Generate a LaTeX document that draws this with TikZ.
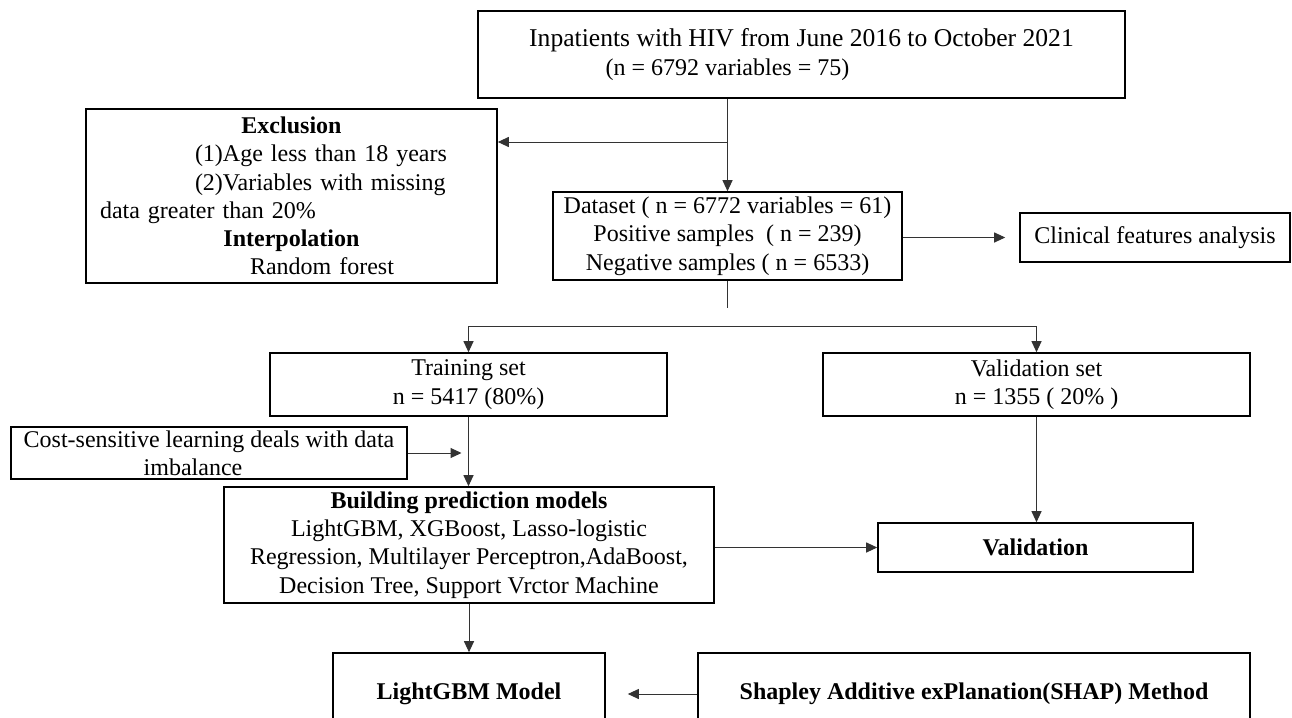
\documentclass[tikz,border=0pt]{standalone}
\usepackage{fontspec}
\setmainfont{Liberation Serif}
\usetikzlibrary{arrows.meta,calc}
\newcommand\bodyfont{\fontsize{24}{28.3}\selectfont}
\begin{document}
\begin{tikzpicture}[x=1pt,y=-1pt,
  box/.style={draw=black,line width=1.6pt,rectangle,inner sep=0pt,align=center,font=\bodyfont},
  boldbox/.style={box,font=\bodyfont\bfseries},
  conn/.style={draw=black!80,line width=1pt},
  arr/.style={conn,-{Triangle[length=11pt,width=10pt]}}]
\clip (0,0) rectangle (1292,717);
\fill[white] (0,0) rectangle (1292,717);

\node[box,minimum width=647pt,minimum height=87pt] (top) at (801.5,54.5)
  {{\fontsize{25.6}{28.3}\selectfont Inpatients with HIV from June 2016 to October 2021}\\\hspace*{-148pt}(n = 6792 variables = 75)};
\node[box,align=left,text width=383pt,inner xsep=14pt,minimum height=174pt] (excl) at (291.5,196)
  {\makebox[383pt]{\bfseries Exclusion}\\
   \hspace*{95pt}(1)Age less than 18 years\\
   \hspace*{95pt}(2)Variables with missing\\
   data greater than 20\%\\
   \makebox[383pt]{\bfseries Interpolation}\\
   \hspace*{150pt}Random forest};
\node[box,minimum width=349pt,minimum height=88pt] (data) at (727.5,236)
  {Dataset ( n = 6772 variables = 61)\\Positive samples\ \ ( n = 239)\\Negative samples ( n = 6533)};
\node[box,minimum width=270pt,minimum height=49pt] (clin) at (1155,237.5) {Clinical features analysis};
\node[box,minimum width=397pt,minimum height=63pt] (train) at (468.5,384.5) {Training set\\n = 5417 (80\%)};
\node[box,minimum width=427pt,minimum height=63pt] (valset) at (1036.5,384.5) {Validation set\\n = 1355 ( 20\% )};
\node[box,minimum width=396pt,minimum height=52pt] (cost) at (209,453)
  {Cost-sensitive learning deals with data\\\hspace*{-32pt}imbalance};
\node[box,minimum width=490pt,minimum height=116pt] (build) at (469,545)
  {\textbf{Building prediction models}\\LightGBM, XGBoost, Lasso-logistic\\Regression, Multilayer Perceptron,AdaBoost,\\Decision Tree, Support Vrctor Machine};
\node[boldbox,minimum width=315pt,minimum height=49pt] (val) at (1035.5,547.5) {Validation};
\node[boldbox,minimum width=272pt,minimum height=82pt] (lgbm) at (469,694) {LightGBM Model};
\node[boldbox,minimum width=552pt,minimum height=82pt] (shap) at (974,694) {Shapley Additive exPlanation(SHAP) Method};

\coordinate (br1) at (727.5,142);
\coordinate (stub) at (727.5,308);
\coordinate (split) at (727.5,326);

\draw[arr] (top.south -| data.north) -- (data.north);
\draw[arr] (br1) -- (excl.east |- br1);
\draw[arr,shorten >=14pt] (data.east |- clin.west) -- (clin.west);
\draw[conn] (data.south) -- (stub);
\draw[arr] (split) -| (train.north);
\draw[arr] (split) -| (valset.north);
\draw[arr] (train.south) -- (train.south |- build.north);
\draw[arr,shorten >=7pt] (cost.east) -- (cost.east -| train.south);
\draw[arr] (build.east |- val.west) -- (val.west);
\draw[arr] (valset.south) -- (valset.south |- val.north);
\draw[arr] (build.south) -- (lgbm.north);
\draw[arr,shorten >=22pt] (shap.west) -- (lgbm.east);
\end{tikzpicture}
\end{document}
